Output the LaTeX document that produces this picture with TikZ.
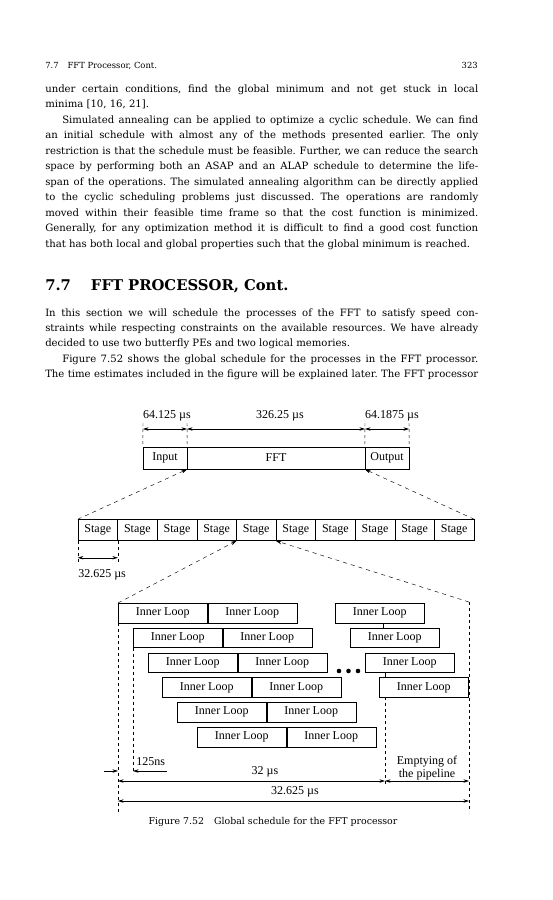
\documentclass[tikz,border=0pt]{standalone}
\usepackage{fontspec}
\setmainfont{DejaVu Serif}
\newfontfamily\figfont{Liberation Serif}
\usetikzlibrary{arrows.meta,positioning}

\tikzset{
  figtext/.style={font=\figfont\fontsize{12}{13}\selectfont},
  phasebox/.style={draw,figtext,minimum height=22pt,inner sep=0pt},
  stagebox/.style={draw,figtext,minimum width=39.6pt,minimum height=21pt,inner sep=0pt},
  loopbox/.style={draw,figtext,minimum width=89pt,minimum height=19.5pt,inner sep=0pt},
  tip/.style={-{Stealth[length=5.5pt,width=3.4pt]}},
  dimline/.style={{Stealth[length=5.5pt,width=3.4pt]}-{Stealth[length=5.5pt,width=3.4pt]},line width=0.5pt},
  guide/.style={dash pattern=on 3pt off 3pt,line width=0.45pt},
  zoomlink/.style={dash pattern=on 4pt off 4pt,line width=0.45pt,-{Stealth[length=6pt,width=3.6pt]}},
  bodytext/.style={text width=433pt,align=justify,inner sep=0pt,anchor=base west,font=\fontsize{10.1}{15.45}\selectfont\frenchspacing},
}

\begin{document}
\begin{tikzpicture}[x=1pt,y=-1pt,line width=0.5pt]
  \useasboundingbox (0,0) rectangle (552,900);
  \fill[white] (0,0) rectangle (552,900);

  % running head and text of the page
  \node[anchor=base west,inner sep=0pt,font=\fontsize{8.4}{10}\selectfont] (runhead) at (45,68) {7.7\hspace{9pt}FFT Processor, Cont.};
  \node[anchor=base east,inner sep=0pt,font=\fontsize{8.4}{10}\selectfont] (pageno) at (478,68) {323};
  \node[bodytext] (para1) at (45,92.5) {under certain conditions, find the global minimum and not get stuck in local\linebreak
    minima [10, 16, 21].\par
    \hspace*{17pt}Simulated annealing can be applied to optimize a cyclic schedule. We can find\linebreak
    an initial schedule with almost any of the methods presented earlier. The only\linebreak
    restriction is that the schedule must be feasible. Further, we can reduce the search\linebreak
    space by performing both an ASAP and an ALAP schedule to determine the life-\linebreak
    span of the operations. The simulated annealing algorithm can be directly applied\linebreak
    to the cyclic scheduling problems just discussed. The operations are randomly\linebreak
    moved within their feasible time frame so that the cost function is minimized.\linebreak
    Generally, for any optimization method it is difficult to find a good cost function\linebreak
    that has both local and global properties such that the global minimum is reached.};
  \node[anchor=base west,inner sep=0pt,font=\bfseries\fontsize{14.8}{17}\selectfont] (sechead) at (45,290) {7.7\hspace{20pt}FFT PROCESSOR, Cont.};
  \node[bodytext] (para2) at (45,316) {In this section we will schedule the processes of the FFT to satisfy speed con-\linebreak
    straints while respecting constraints on the available resources. We have already\linebreak
    decided to use two butterfly PEs and two logical memories.\par
    \hspace*{17pt}Figure 7.52 shows the global schedule for the processes in the FFT processor.\linebreak
    The time estimates included in the figure will be explained later. The FFT processor{\parfillskip=0pt\par}};

  % whole process: input, FFT, output
  \node[phasebox,minimum width=44pt] (input) at (165,458) {Input};
  \node[phasebox,minimum width=178pt] (fft) at (276,458) {FFT};
  \node[phasebox,minimum width=44pt] (output) at (387,458) {Output};
  \coordinate (d0) at (143,429);
  \coordinate (d1) at (187,429);
  \coordinate (d2) at (365,429);
  \coordinate (d3) at (409,429);
  \draw[guide] ([yshift=6pt]d0) -- (input.north west);
  \draw[guide] ([yshift=6pt]d1) -- (input.north east);
  \draw[guide] ([yshift=6pt]d2) -- (output.north west);
  \draw[guide] ([yshift=6pt]d3) -- (output.north east);
  \draw[dimline] (d0) -- (d1);
  \draw[dimline] (d1) -- (d2);
  \draw[dimline] (d2) -- (d3);
  \node[figtext] (inlen) at (167,416) {64.125 µs};
  \node[figtext] (fftlen) at (280,416) {326.25 µs};
  \node[figtext] (outlen) at (392,416) {64.1875 µs};

  % the FFT split into stages
  \foreach \i in {0,...,9}
    \node[stagebox] (s\i) at ({97.8+39.6*\i},530) {Stage};
  \draw[zoomlink] (s0.north west) -- (input.south east);
  \draw[zoomlink] (s9.north east) -- (output.south west);
  \draw[guide] (s0.south west) -- ++(0,22);
  \draw[guide] (s0.south east) -- ++(0,22);
  \draw[dimline] ([yshift=-17pt]s0.south west) -- ([yshift=-17pt]s0.south east);
  \node[figtext,anchor=west,inner sep=0pt] (stagelen) at (78,575) {32.625 µs};

  % one stage: overlapped inner loops
  \foreach \x/\y [count=\n] in {118/613,133/637.8,148/662.6,162/687.4,177/712.2,197/737}{
    \node[loopbox,anchor=west] (la\n) at (\x,\y) {Inner Loop};
    \node[loopbox,right=0pt of la\n] (lb\n) {Inner Loop};
  }
  \foreach \x/\y [count=\n] in {335/613,350/637.8,365/662.6,379/687.4}
    \node[loopbox,anchor=west] (rc\n) at (\x,\y) {Inner Loop};
  \draw ([xshift=48pt]rc1.south west) -- ([xshift=33pt]rc2.north west);
  \draw ([xshift=20pt]rc3.south west) -- ([xshift=6pt]rc4.north west);
  \foreach \x in {339,348.5,358}
    \fill (\x,671) circle[radius=2.3pt];

  \coordinate (rtop) at (469,602);
  \coordinate (lbot) at (118,812);
  \coordinate (rbot) at (469,812);
  \draw[zoomlink] (la1.north west) -- (s3.south east);
  \draw[zoomlink] (rtop) -- (s5.south west);
  \draw[guide] (la1.south west) -- (lbot);
  \draw[guide] (rtop) -- (rbot);
  \draw[guide] (la2.south west) -- ++(0,126);
  \draw[guide] ([xshift=6pt]rc4.south west) -- ++(0,88);

  % time scale of the stage
  \node[figtext,anchor=west,inner sep=0pt] (gaplen) at (136,762) {125ns};
  \coordinate (g0) at (104,771);
  \coordinate (g1) at (118,771);
  \coordinate (g2) at (133,771);
  \coordinate (g3) at (167,771);
  \draw[tip] (g0) -- (g1);
  \draw[tip] (g3) -- (g2);
  \coordinate (t0) at (118,781);
  \coordinate (t1) at (385,781);
  \coordinate (t2) at (469,781);
  \draw[dimline] (t0) -- (t1);
  \draw[dimline] (t1) -- (t2);
  \node[figtext] (looplen) at (265,772) {32 µs};
  \node[figtext,align=center] (emptylbl) at (427,768) {Emptying of\\the pipeline};
  \coordinate (f0) at (118,801);
  \coordinate (f1) at (469,801);
  \draw[dimline] (f0) -- (f1);
  \node[figtext] (totlen) at (295,792) {32.625 µs};

  \node[font=\fontsize{9.4}{11}\selectfont] (caption) at (273,822) {Figure 7.52\hspace{10pt}Global schedule for the FFT processor};
\end{tikzpicture}
\end{document}
